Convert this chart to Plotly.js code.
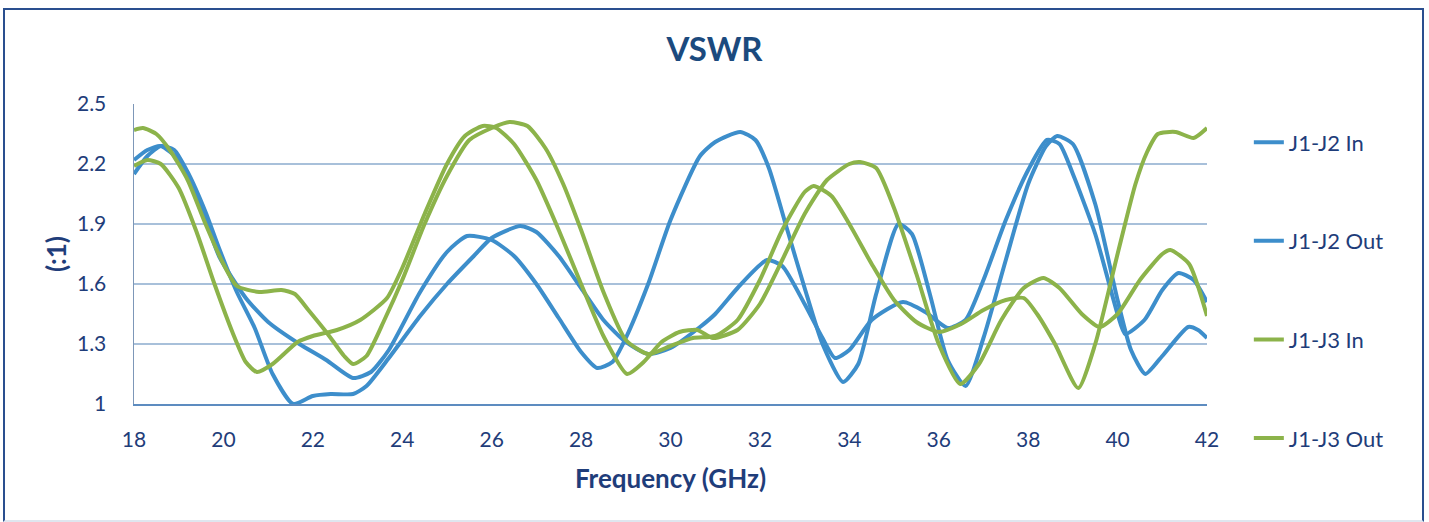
<!DOCTYPE html>
<html>
<head>
<meta charset="utf-8">
<script src="https://cdn.plot.ly/plotly-3.0.1.min.js"></script>
<style>
  html, body { margin: 0; padding: 0; background: #ffffff; }
  #wrap { position: relative; width: 1429px; height: 522px; overflow: hidden; }
  #chart { width: 1429px; height: 522px; }
  #frame { position: absolute; left: 3px; top: 8px; width: 1417px; height: 510px;
           border: 2px solid #2a4f8f; border-bottom-color: #dfe6ef; pointer-events: none; }
</style>
</head>
<body>
<div id="wrap">
  <div id="chart"></div>
  <div id="frame"></div>
</div>
<script>
// Frequency (GHz) and VSWR readings for each trace
const j12InFreq = [18.0, 18.3, 18.6, 19.0, 19.4, 19.9, 20.5, 21.0, 21.7, 22.3, 22.9, 23.3, 23.7, 24.4, 25.0, 25.45, 26.0, 26.5, 27.0, 27.5, 28.0, 28.36, 28.7, 29.0, 29.5, 30.0, 30.66, 31.0, 31.56, 31.9, 32.2, 32.6, 33.0, 33.4, 33.86, 34.2, 34.6, 35.1, 35.4, 35.8, 36.2, 36.6, 37.0, 37.5, 38.0, 38.4, 38.65, 39.0, 39.5, 40.0, 40.3, 40.62, 41.0, 41.58, 41.8, 42.0];
const j12InVswr = [2.22, 2.27, 2.29, 2.22, 2.05, 1.74, 1.53, 1.41, 1.30, 1.22, 1.13, 1.16, 1.27, 1.56, 1.76, 1.84, 1.82, 1.74, 1.60, 1.43, 1.26, 1.18, 1.21, 1.33, 1.60, 1.92, 2.24, 2.31, 2.36, 2.32, 2.18, 1.88, 1.58, 1.30, 1.11, 1.20, 1.55, 1.90, 1.85, 1.55, 1.22, 1.09, 1.33, 1.72, 2.10, 2.29, 2.34, 2.30, 2.00, 1.52, 1.27, 1.15, 1.24, 1.385, 1.37, 1.33];

const j12OutFreq = [18.0, 18.3, 18.6, 18.9, 19.2, 19.6, 19.9, 20.3, 20.7, 21.1, 21.56, 22.0, 22.4, 22.9, 23.2, 23.7, 24.4, 25.0, 25.6, 26.0, 26.64, 27.0, 27.5, 28.0, 28.5, 29.0, 29.5, 30.0, 30.66, 31.0, 31.5, 32.16, 32.5, 33.0, 33.4, 33.68, 34.0, 34.5, 35.2, 35.7, 36.2, 36.6, 37.0, 37.5, 38.0, 38.42, 38.7, 39.0, 39.5, 40.0, 40.17, 40.6, 41.0, 41.36, 41.7, 42.0];
const j12OutVswr = [2.15, 2.24, 2.29, 2.27, 2.16, 1.96, 1.78, 1.56, 1.38, 1.15, 1.00, 1.04, 1.05, 1.05, 1.09, 1.23, 1.44, 1.60, 1.74, 1.83, 1.89, 1.86, 1.74, 1.58, 1.42, 1.31, 1.25, 1.28, 1.385, 1.45, 1.58, 1.72, 1.69, 1.50, 1.33, 1.23, 1.27, 1.42, 1.51, 1.46, 1.38, 1.42, 1.62, 1.92, 2.17, 2.32, 2.30, 2.15, 1.85, 1.45, 1.35, 1.42, 1.57, 1.655, 1.62, 1.51];

const j13InFreq = [18.0, 18.2, 18.5, 18.8, 19.2, 19.6, 20.0, 20.3, 20.8, 21.3, 21.6, 21.9, 22.3, 22.7, 22.9, 23.2, 23.6, 24.0, 24.5, 25.0, 25.5, 26.0, 26.4, 26.8, 27.2, 27.6, 28.0, 28.5, 29.0, 29.5, 30.0, 30.5, 31.0, 31.5, 32.0, 32.5, 33.0, 33.2, 33.6, 34.0, 34.5, 35.0, 35.5, 36.0, 36.5, 37.0, 37.5, 37.9, 38.2, 38.6, 39.12, 39.5, 40.0, 40.4, 40.66, 40.9, 41.3, 41.7, 42.0];
const j13InVswr = [2.37, 2.38, 2.35, 2.27, 2.12, 1.90, 1.70, 1.59, 1.56, 1.57, 1.55, 1.47, 1.36, 1.24, 1.20, 1.24, 1.42, 1.62, 1.90, 2.14, 2.32, 2.38, 2.41, 2.39, 2.28, 2.10, 1.87, 1.56, 1.32, 1.25, 1.29, 1.33, 1.34, 1.42, 1.62, 1.87, 2.06, 2.09, 2.04, 1.90, 1.70, 1.52, 1.41, 1.36, 1.40, 1.47, 1.52, 1.53, 1.45, 1.30, 1.08, 1.30, 1.75, 2.10, 2.26, 2.35, 2.36, 2.33, 2.38];

const j13OutFreq = [18.0, 18.3, 18.6, 19.0, 19.4, 19.8, 20.2, 20.5, 20.75, 21.1, 21.66, 22.0, 22.54, 23.06, 23.66, 24.0, 24.5, 25.0, 25.4, 25.8, 26.1, 26.5, 27.0, 27.5, 28.0, 28.5, 29.03, 29.4, 29.8, 30.2, 30.6, 30.95, 31.5, 32.0, 32.5, 33.0, 33.5, 34.0, 34.24, 34.6, 35.0, 35.5, 36.0, 36.48, 36.9, 37.4, 37.9, 38.34, 38.7, 39.2, 39.6, 40.0, 40.5, 41.0, 41.18, 41.6, 42.0];
const j13OutVswr = [2.19, 2.22, 2.20, 2.08, 1.86, 1.60, 1.36, 1.21, 1.16, 1.20, 1.31, 1.34, 1.37, 1.42, 1.53, 1.68, 1.95, 2.20, 2.34, 2.39, 2.38, 2.30, 2.12, 1.87, 1.60, 1.34, 1.15, 1.21, 1.31, 1.36, 1.37, 1.33, 1.37, 1.50, 1.72, 1.95, 2.12, 2.20, 2.21, 2.18, 1.98, 1.65, 1.30, 1.10, 1.20, 1.42, 1.58, 1.63, 1.58, 1.45, 1.385, 1.45, 1.62, 1.75, 1.77, 1.70, 1.44];

const seriesNames = ["J1-J2 In", "J1-J2 Out", "J1-J3 In", "J1-J3 Out"];
const yTickVals = [1, 1.3, 1.6, 1.9, 2.2, 2.5];
const yTickText = ["1", "1.3", "1.6", "1.9", "2.2", "2.5"];
const xTickVals = [18, 20, 22, 24, 26, 28, 30, 32, 34, 36, 38, 40, 42];

const BLUE = "#3d8ecb";
const GREEN = "#8cb34a";
const TEXT = "#1f3d7a";
const FONT = "Lato, 'Open Sans', sans-serif";

const xs = [j12InFreq, j12OutFreq, j13InFreq, j13OutFreq];
const ys = [j12InVswr, j12OutVswr, j13InVswr, j13OutVswr];
const cols = [BLUE, BLUE, GREEN, GREEN];

const traces = seriesNames.map((n, i) => ({
  x: xs[i], y: ys[i], name: n, type: "scatter", mode: "lines",
  legendgroup: "g" + i,
  line: { color: cols[i], width: 4, shape: "spline", smoothing: 0.6 }
}));

const layout = {
  width: 1429, height: 522,
  paper_bgcolor: "#ffffff", plot_bgcolor: "#ffffff",
  margin: { l: 134, r: 222, t: 104, b: 118 },
  font: { family: FONT, color: TEXT, size: 21 },
  title: { text: "<b>VSWR</b>", x: 0.5, xref: "container", y: 0.928, yref: "container",
           font: { family: FONT, size: 33, color: "#1b4a7e" } },
  xaxis: {
    range: [18, 42], tickvals: xTickVals, showgrid: false, zeroline: false,
    showline: true, linecolor: "#5d8cc0", linewidth: 1.5,
    ticks: "", ticklabelstandoff: 16,
    tickfont: { family: FONT, size: 21, color: TEXT },
    title: { text: "<b>Frequency (GHz)</b>", standoff: 20, font: { family: FONT, size: 26, color: TEXT } }
  },
  yaxis: {
    range: [1, 2.5], tickvals: yTickVals, ticktext: yTickText,
    showgrid: true, gridcolor: "#a8c0da", gridwidth: 1.3, zeroline: false,
    showline: true, linecolor: "#7d97b8", linewidth: 1.5,
    ticks: "", ticklabelstandoff: 22,
    tickfont: { family: FONT, size: 21, color: TEXT },
    title: { text: "<b>(:1)</b>", standoff: 3, font: { family: FONT, size: 26, color: TEXT } }
  },
  showlegend: true,
  legend: {
    x: 1.039, xanchor: "left", y: 0.942, yanchor: "top",
    font: { family: FONT, size: 22, color: TEXT },
    tracegroupgap: 67, itemwidth: 30, maxheight: 480,
    bgcolor: "rgba(0,0,0,0)"
  }
};

Plotly.newPlot("chart", traces, layout, { displayModeBar: false, staticPlot: true });
</script>
</body>
</html>
